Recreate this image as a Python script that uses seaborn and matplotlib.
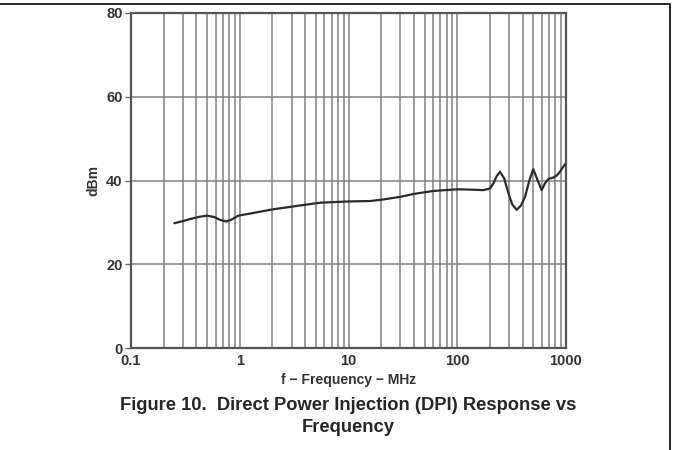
import numpy as np
import pandas as pd
import matplotlib
matplotlib.use("Agg")
import matplotlib.pyplot as plt
from matplotlib.lines import Line2D
import seaborn as sns

# DPI response
freq_mhz = [0.25, 0.30, 0.35, 0.42, 0.50, 0.58, 0.66, 0.75, 0.83, 0.97,
            1.3, 2.0, 3.5, 5.5, 10, 15.8, 20, 30, 40, 60,
            100, 140, 175, 200, 215, 230, 247, 270, 296, 320,
            352, 385, 420, 460, 500, 540, 597, 640, 690, 765,
            830, 880, 980]
dbm = [29.8, 30.3, 30.8, 31.3, 31.6, 31.3, 30.6, 30.2, 30.6, 31.6,
       32.2, 33.1, 34.0, 34.7, 35.0, 35.1, 35.4, 36.1, 36.8, 37.5,
       37.9, 37.8, 37.7, 38.1, 39.3, 41.0, 42.1, 40.5, 36.9, 34.3,
       33.0, 34.0, 36.1, 40.0, 42.7, 40.5, 37.7, 39.3, 40.4, 40.7,
       41.3, 42.1, 43.9]

y_ticks = [0, 20, 40, 60, 80]
x_ticks = [0.1, 1, 10, 100, 1000]
x_tick_labels = ["0.1", "1", "10", "100", "1000"]

df = pd.DataFrame({"f": freq_mhz, "dBm": dbm})

sns.set_style("white")
plt.rcParams["font.family"] = ["Liberation Sans", "DejaVu Sans"]

fig = plt.figure(figsize=(6.74, 4.5), dpi=100)
ax = fig.add_axes([131 / 674, 1 - 348 / 450, (566 - 131) / 674, (348 - 13) / 450])

# log grid: every decade step gets a vertical line
minor = [m * 10.0 ** e for e in range(-1, 3) for m in range(1, 10)]
for v in minor:
    ax.axvline(v, color="#808080", lw=1.1, zorder=1)
for v in [20, 40, 60]:
    ax.axhline(v, color="#808080", lw=1.1, zorder=1)

sns.lineplot(data=df, x="f", y="dBm", ax=ax, color="#2b2b2b", lw=1.6, zorder=3)

ax.set_xscale("log")
ax.set_xlim(0.1, 1000)
ax.set_ylim(0, 80)
ax.set_xticks(x_ticks)
ax.set_xticklabels(x_tick_labels)
ax.minorticks_off()
ax.set_yticks(y_ticks)
ax.tick_params(axis="x", length=0, pad=4, labelsize=10.5, labelcolor="#333333")
ax.tick_params(axis="y", length=4, width=1, color="#666666", pad=2, labelsize=10.5,
               labelcolor="#333333", left=True)
for lab in ax.get_xticklabels() + ax.get_yticklabels():
    lab.set_fontweight("bold")
for s in ax.spines.values():
    s.set_color("#555555")
    s.set_linewidth(1.6)

ax.set_xlabel("f \u2212 Frequency \u2212 MHz", fontsize=10, fontweight="bold",
              color="#333333", labelpad=4)
ax.set_ylabel("dBm", fontsize=10, fontweight="bold", color="#333333", labelpad=4)

fig.text(348 / 674, 1 - 405 / 450,
         "Figure 10.  Direct Power Injection (DPI) Response vs",
         ha="center", va="center", fontsize=13.2, fontweight="bold")
fig.text(348 / 674, 1 - 428 / 450, "Frequency",
         ha="center", va="center", fontsize=13.2, fontweight="bold")

# page frame lines
fig.add_artist(Line2D([0, 670 / 674], [1 - 4 / 450, 1 - 4 / 450], color="black", lw=1.2,
                      transform=fig.transFigure))
fig.add_artist(Line2D([670 / 674, 670 / 674], [1 - 4 / 450, 0], color="black", lw=1.2,
                      transform=fig.transFigure))

fig.savefig("out.png", dpi=100)
